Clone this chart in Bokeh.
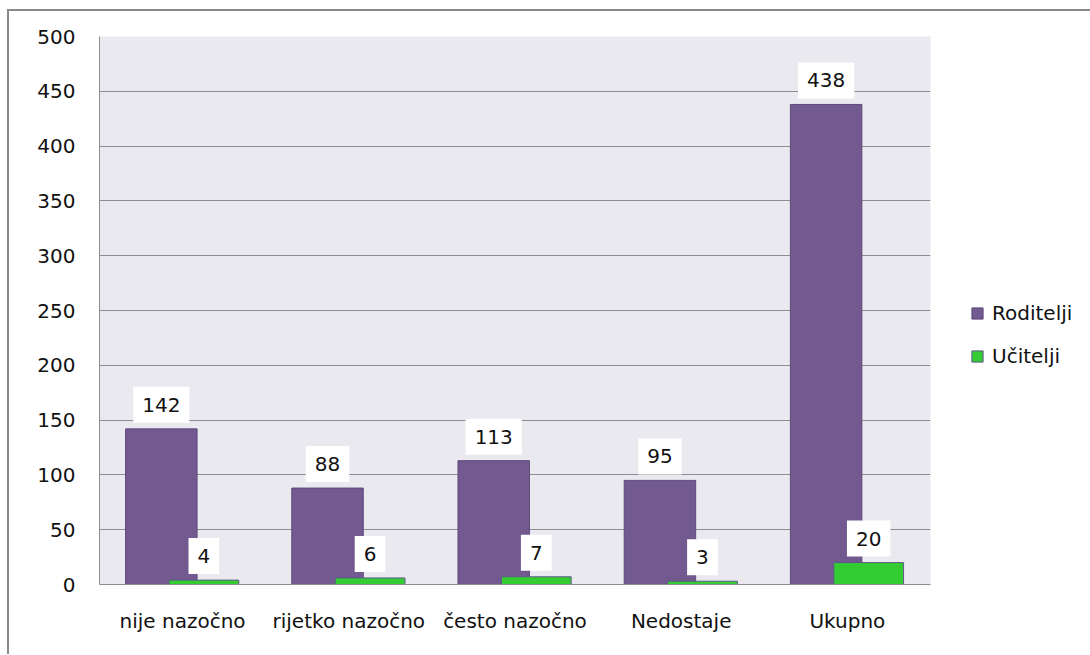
from bokeh.plotting import figure
from bokeh.models import (ColumnDataSource, Range1d, FixedTicker, Legend, LegendItem, FactorRange)
from bokeh.core.properties import value
from bokeh.transform import dodge
from bokeh.embed import file_html
from bokeh.resources import INLINE

categories = ["nije nazočno", "rijetko nazočno", "često nazočno", "Nedostaje", "Ukupno"]
roditelji = [142, 88, 113, 95, 438]
ucitelji = [4, 6, 7, 3, 20]
series_names = ["Roditelji", "Učitelji"]
y_ticks = [0, 50, 100, 150, 200, 250, 300, 350, 400, 450, 500]

PURPLE = "#72598F"
GREEN = "#33CC33"
FONT = "DejaVu Sans"
FS = "20px"

src = ColumnDataSource(dict(cat=categories, rod=roditelji, uci=ucitelji,
                            rod_t=[str(v) for v in roditelji], uci_t=[str(v) for v in ucitelji]))

p = figure(x_range=FactorRange(*categories, range_padding=0), y_range=Range1d(0, 500),
           width=1080, height=643, frame_width=831, frame_height=548,
           min_border_left=90, min_border_top=25, min_border_right=159, min_border_bottom=70,
           output_backend="svg", toolbar_location=None)
p.styles = {"border-top": "2px solid #8a8a8a", "border-left": "2px solid #8a8a8a",
            "margin-left": "7px", "margin-top": "9px"}

p.background_fill_color = "#EBE9F0"
p.border_fill_color = "white"
p.outline_line_color = None

r1 = p.vbar(x=dodge("cat", -0.128, range=p.x_range), top="rod", width=0.43, source=src,
            fill_color=PURPLE, line_color="#5E4A7A", line_width=1)
r2 = p.vbar(x=dodge("cat", 0.128, range=p.x_range), top="uci", width=0.42, source=src,
            fill_color=GREEN, line_color="#5E5A8A", line_width=1)

for col, off in (("rod", -0.128), ("uci", 0.128)):
    p.text(x=dodge("cat", off, range=p.x_range), y=col, text=col + "_t", source=src,
           y_offset=-24, text_align="center", text_baseline="middle",
           text_font=value(FONT), text_font_size=FS, text_color="#111111",
           background_fill_color="white", padding=(9, 11))

p.xgrid.grid_line_color = None
p.ygrid.grid_line_color = "#8E8E8E"
p.ygrid.grid_line_width = 1

p.yaxis.ticker = FixedTicker(ticks=y_ticks)
p.yaxis.axis_line_color = "#8E8E8E"
p.yaxis.major_tick_line_color = None
p.yaxis.minor_tick_line_color = None
p.yaxis.major_tick_out = 0
p.yaxis.major_label_standoff = 24
p.yaxis.major_label_text_font = FONT
p.yaxis.major_label_text_font_size = FS
p.yaxis.major_label_text_color = "#111111"

p.xaxis.axis_line_color = "#8E8E8E"
p.xaxis.major_tick_line_color = None
p.xaxis.major_tick_out = 0
p.xaxis.major_label_standoff = 24
p.xaxis.major_label_text_font = FONT
p.xaxis.major_label_text_font_size = FS
p.xaxis.major_label_text_color = "#111111"

legend = Legend(items=[LegendItem(label=series_names[0], renderers=[r1]),
                       LegendItem(label=series_names[1], renderers=[r2])],
                location=(40, 216), orientation="vertical",
                glyph_width=14, glyph_height=14, label_height=20, spacing=19,
                label_standoff=8, padding=0, margin=0,
                border_line_color=None, background_fill_alpha=0,
                label_text_font=FONT, label_text_font_size=FS, label_text_color="#111111")
p.add_layout(legend, "right")

open("out.html", "w").write(file_html(p, INLINE))
